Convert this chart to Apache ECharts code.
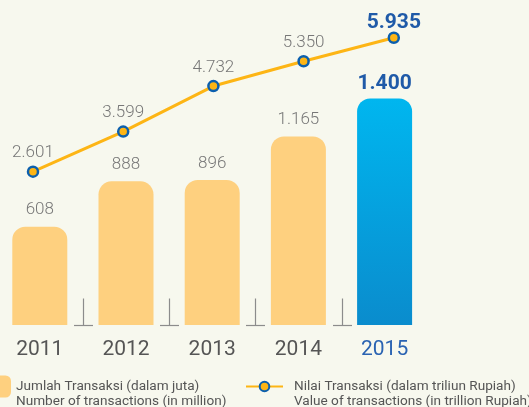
<!DOCTYPE html>
<html>
<head>
<meta charset="utf-8">
<script src="https://cdn.jsdelivr.net/npm/echarts@6/dist/echarts.min.js"></script>
<style>
  html, body { margin: 0; padding: 0; background: #f7f8ee; }
  #chart { width: 529px; height: 407px; }
</style>
</head>
<body>
<div id="chart"></div>
<script>
// data
var years = ["2011", "2012", "2013", "2014", "2015"];
var jumlahTransaksi = [608, 888, 896, 1165, 1400];
var nilaiTransaksi = [2601, 3599, 4732, 5350, 5935];
var barName = "Jumlah Transaksi (dalam juta)";
var barNameEn = "Number of transactions (in million)";
var lineName = "Nilai Transaksi (dalam triliun Rupiah)";
var lineNameEn = "Value of transactions (in trillion Rupiah)";

var chart = echarts.init(document.getElementById("chart"));

var lastIdx = years.length - 1;
var blue = "#1f5aa8";

// angka pakai titik sebagai pemisah ribuan
function fmt(v) {
  return String(v).replace(/\B(?=(\d{3})+(?!\d))/g, ".");
}

var barData = jumlahTransaksi.map(function (v, i) {
  if (i !== lastIdx) return v;
  return {
    value: v,
    itemStyle: {
      color: new echarts.graphic.LinearGradient(0, 0, 0, 1, [
        { offset: 0, color: "#00b6ef" },
        { offset: 1, color: "#0a8ccd" }
      ])
    },
    label: { color: blue, fontWeight: "bold", fontSize: 21, distance: 4 }
  };
});

var lineData = nilaiTransaksi.map(function (v, i) {
  if (i !== lastIdx) return v;
  return {
    value: v,
    label: { color: blue, fontWeight: "bold", fontSize: 21, distance: -2 }
  };
});

// separator di antara kategori
var separators = years.slice(1).map(function (y, i) {
  return [i + 1, 0];
});

// teks legend dua baris, baris pertama sejajar ikon
function legendText(padLeft) {
  return {
    color: "#555",
    fontSize: 13.6,
    fontFamily: "Roboto",
    rich: {
      s: { fontSize: 13.6, lineHeight: 15, fontFamily: "Roboto" },
      a: { fontSize: 13.6, lineHeight: 15, color: "#555", fontFamily: "Roboto", padding: [0, 0, 0, padLeft] }
    }
  };
}

var option = {
  backgroundColor: "#f7f8ee",
  textStyle: { fontFamily: "Roboto" },
  animation: false,
  grid: [
    { left: -3.3, width: 431, top: 82.3, height: 242.7, outerBoundsMode: "none" },
    { left: -12.1, width: 451, top: 35.1, height: 241.1, outerBoundsMode: "none" }
  ],
  legend: [
    {
      data: [barName],
      left: -13,
      top: 364.5,
      padding: 0,
      itemWidth: 24,
      itemHeight: 22,
      icon: "roundRect",
      formatter: function () { return "{s| }\n{a|" + barName + "}\n{a|" + barNameEn + "}"; },
      textStyle: legendText(0)
    },
    {
      data: [lineName],
      left: 245,
      top: 364.5,
      padding: 0,
      itemWidth: 37,
      itemHeight: 12,
      formatter: function () { return "{s| }\n{a|" + lineName + "}\n{a|" + lineNameEn + "}"; },
      textStyle: legendText(6)
    }
  ],
  xAxis: [
    {
      type: "category",
      gridIndex: 0,
      data: years,
      axisLine: { show: false },
      axisTick: { show: false },
      axisLabel: {
        margin: 14,
        fontSize: 21,
        color: function (value, index) {
          return index === lastIdx ? "#2a63b2" : "#555";
        }
      }
    },
    {
      type: "category",
      gridIndex: 1,
      data: years,
      show: false
    }
  ],
  yAxis: [
    { type: "value", gridIndex: 0, min: 0, max: 1500, show: false },
    { type: "value", gridIndex: 1, min: 0, max: 6000, show: false }
  ],
  series: [
    {
      name: barName,
      type: "bar",
      xAxisIndex: 0,
      yAxisIndex: 0,
      barWidth: 55,
      data: barData,
      itemStyle: { color: "#fed07f", borderRadius: [13, 13, 0, 0] },
      label: {
        show: true,
        position: "top",
        distance: 8,
        fontSize: 17,
        fontWeight: 300,
        color: "#777",
        formatter: function (p) { return fmt(p.value); }
      }
    },
    {
      type: "custom",
      xAxisIndex: 0,
      yAxisIndex: 0,
      silent: true,
      data: separators,
      renderItem: function (params, api) {
        var i = api.value(0);
        var a = api.coord([i - 1, 0]);
        var b = api.coord([i, 0]);
        var x = Math.round((a[0] + b[0]) / 2) + 0.5;
        var y = Math.round(a[1]) + 0.5;
        var st = { stroke: "#8c8c8c", lineWidth: 1.2 };
        return {
          type: "group",
          children: [
            { type: "line", shape: { x1: x, y1: y - 27, x2: x, y2: y }, style: st },
            { type: "line", shape: { x1: x - 9.5, y1: y, x2: x + 9.5, y2: y }, style: st }
          ]
        };
      }
    },
    {
      name: lineName,
      type: "line",
      xAxisIndex: 1,
      yAxisIndex: 1,
      data: lineData,
      symbol: "circle",
      symbolSize: 10,
      lineStyle: { color: "#fdb515", width: 3 },
      itemStyle: { color: "#fdb515", borderColor: "#0b5fae", borderWidth: 2.5 },
      label: {
        show: true,
        position: "top",
        distance: 4,
        fontSize: 17,
        fontWeight: 300,
        color: "#777",
        formatter: function (p) { return fmt(p.value); }
      },
      z: 5
    }
  ]
};

chart.setOption(option);
window.addEventListener("resize", function () {
  chart.resize();
});
</script>
</body>
</html>
